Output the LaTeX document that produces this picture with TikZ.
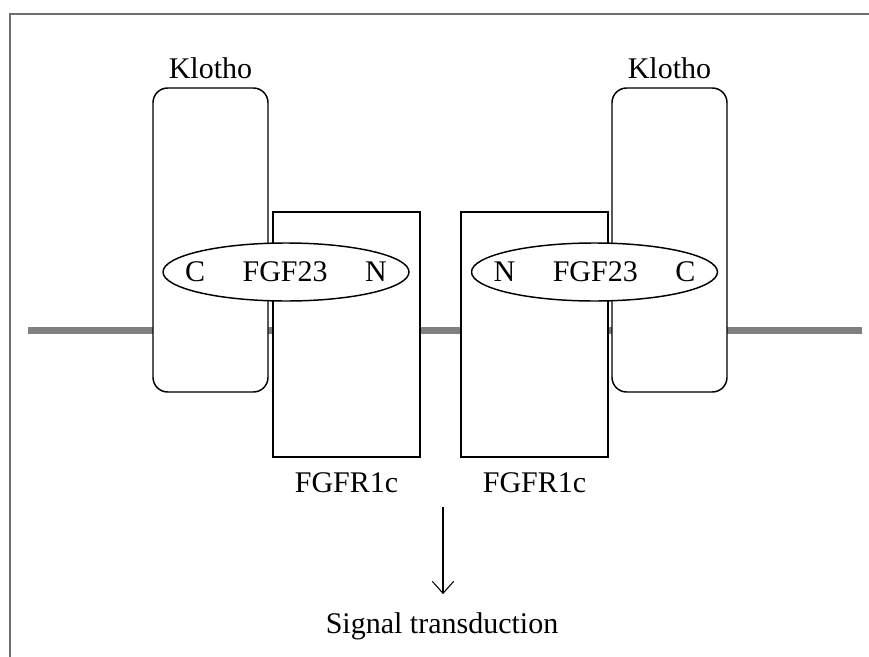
\documentclass[tikz,border=0pt]{standalone}
\usepackage{fontspec}
\setmainfont{Liberation Serif}
\usepackage{tikz}
\usetikzlibrary{shapes, positioning, arrows.meta}
\definecolor{memb}{RGB}{128, 128, 128}
\definecolor{edge}{RGB}{110, 110, 110}
\newcommand*{\gap}{1.25em}

\begin{document}
\begin{tikzpicture}[
   x=0.75pt, y=-0.75pt,
   font=\fontsize{22.5}{27}\selectfont,
   klobox/.style={rectangle, rounded corners=11pt, draw=black, fill=white, line width=1.1,
                  minimum width=86.25pt, minimum height=228pt},
   recbox/.style={rectangle, draw=black, fill=white, line width=1.1,
                  minimum width=110.25pt, minimum height=183.75pt},
   fgfell/.style={ellipse, draw=black, fill=white, line width=1.1, inner sep=0,
                  minimum width=184.5pt, minimum height=43.5pt},
   lbl/.style={text=black},
   memline/.style={draw=memb, line width=5.25},
   sigarrow/.style={-{Straight Barb[length=9pt, width=16pt]}, line width=0.8, shorten >=10pt}
  ]

  \useasboundingbox (0, 0) rectangle (869, 657);

  % frame and membrane
  \draw[edge, line width=1.4] (10, 657) |- (869, 14);
  \coordinate (memL) at (28, 330);
  \coordinate (memR) at (862, 330);
  \draw[memline] (memL) -- (memR);

  \node (kloL) at (210.5, 240) [klobox] {};
  \node (kloR) at (669.5, 240) [klobox] {};
  \node (fgfrL) at (346.5, 334.5) [recbox] {};
  \node (fgfrR) at (534.5, 334.5) [recbox] {};

  \node (fgfL) at (286, 272) [fgfell,
        label={[name=fgfLtxt]center:C\hspace{\gap}FGF23\hspace{\gap}N}] {};
  \node (fgfR) at (594.5, 272) [fgfell,
        label={[name=fgfRtxt]center:N\hspace{\gap}FGF23\hspace{\gap}C}] {};

  \node (kloLlab) [lbl, above=3pt of kloL] {Klotho};
  \node (kloRlab) [lbl, above=3pt of kloR] {Klotho};
  \node (fgfrLlab) [lbl, below=8pt of fgfrL] {FGFR1c};
  \node (fgfrRlab) [lbl, below=8pt of fgfrR] {FGFR1c};

  \node (signal) at (442, 633) [lbl, anchor=base] {Signal transduction};
  \coordinate (sigtop) at (443, 507);
  \draw[sigarrow] (sigtop) -- (sigtop |- signal.north);

\end{tikzpicture}
\end{document}
